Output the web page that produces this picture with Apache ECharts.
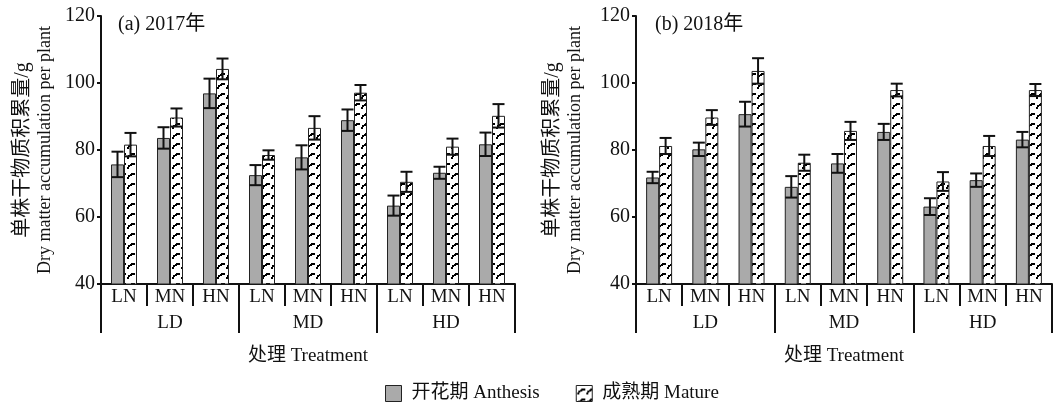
<!DOCTYPE html>
<html>
<head>
<meta charset="utf-8">
<script src="https://cdn.jsdelivr.net/npm/echarts@6/dist/echarts.min.js"></script>
<style>
html, body { margin: 0; padding: 0; background: #fff; }
#chart { width: 1055px; height: 406px; }
</style>
</head>
<body>
<div id="chart"></div>
<script>
var categories = ['LN', 'MN', 'HN', 'LN', 'MN', 'HN', 'LN', 'MN', 'HN'];
var groups = ['LD', 'MD', 'HD'];
var years = ['(a) 2017年', '(b) 2018年'];
var seriesNames = ['开花期 Anthesis', '成熟期 Mature'];

// 2017
var anth2017 = [75.7, 83.6, 96.9, 72.5, 77.8, 88.9, 63.4, 73.2, 81.7];
var anth2017Err = [3.8, 3.2, 4.4, 3.0, 3.6, 3.2, 3.0, 1.8, 3.5];
var mat2017 = [81.6, 89.7, 104.2, 78.5, 86.6, 97.1, 70.5, 81.0, 90.2];
var mat2017Err = [3.5, 2.7, 3.1, 1.4, 3.5, 2.3, 3.0, 2.4, 3.5];
// 2018
var anth2018 = [71.8, 80.2, 90.7, 69.0, 76.0, 85.4, 63.1, 71.0, 83.1];
var anth2018Err = [1.7, 2.0, 3.7, 3.2, 2.8, 2.4, 2.5, 2.0, 2.3];
var mat2018 = [81.2, 89.7, 103.6, 76.2, 85.7, 97.9, 70.6, 81.2, 97.9];
var mat2018Err = [2.4, 2.2, 3.8, 2.4, 2.7, 1.9, 2.8, 3.0, 1.8];

var FONT = "'Liberation Serif', 'Noto Sans CJK SC', serif";
var INK = '#111';

// 成熟期的花纹
function makePattern() {
    var c = document.createElement('canvas');
    c.width = 9;
    c.height = 10;
    var ctx = c.getContext('2d');
    ctx.fillStyle = '#fff';
    ctx.fillRect(0, 0, 9, 10);
    ctx.fillStyle = '#000';
    ctx.fillRect(1, 7, 2, 2);
    ctx.fillRect(2, 5, 2, 2);
    ctx.fillRect(4, 4, 2, 2);
    ctx.fillRect(5, 3, 4, 2);
    return c;
}
var pattern = { image: makePattern(), repeat: 'repeat' };

function errSeries(xi, yi, vals, errs, side) {
    return {
        type: 'custom',
        xAxisIndex: xi,
        yAxisIndex: yi,
        z: 10,
        silent: true,
        data: vals.map(function(v, i) { return [i, v - errs[i], v + errs[i]]; }),
        renderItem: function(params, api) {
            var lo = api.coord([api.value(0), api.value(1)]);
            var hi = api.coord([api.value(0), api.value(2)]);
            var x = lo[0] + side * 6.5;
            var hw = 6;
            var st = { stroke: INK, lineWidth: 2 };
            return {
                type: 'group',
                children: [
                    { type: 'line', shape: { x1: x, y1: lo[1], x2: x, y2: hi[1] }, style: st },
                    { type: 'line', shape: { x1: x - hw, y1: hi[1], x2: x + hw, y2: hi[1] }, style: st },
                    { type: 'line', shape: { x1: x - hw, y1: lo[1], x2: x + hw, y2: lo[1] }, style: st }
                ]
            };
        }
    };
}

function barSeries(xi, yi, name, vals) {
    return {
        type: 'bar',
        name: name,
        xAxisIndex: xi,
        yAxisIndex: yi,
        barWidth: 13,
        barGap: '0%',
        itemStyle: {
            color: name == seriesNames[0] ? '#aaaaaa' : pattern,
            borderColor: '#222',
            borderWidth: 1
        },
        data: vals
    };
}

var lineSt = { color: INK, width: 2 };

function catAxis(g) {
    return {
        type: 'category', gridIndex: g, data: categories, position: 'bottom',
        axisLine: { lineStyle: lineSt },
        axisTick: { show: true, interval: 0, length: 22, lineStyle: lineSt },
        axisLabel: { interval: 0, fontSize: 19, margin: 4, color: INK, fontFamily: FONT }
    };
}

function groupAxis(g) {
    return {
        type: 'category', gridIndex: g, data: groups, position: 'bottom',
        axisLine: { show: false },
        axisTick: { show: true, interval: 0, length: 49, lineStyle: lineSt },
        axisLabel: { interval: 0, fontSize: 19, margin: 30, color: INK, fontFamily: FONT },
        name: '处理 Treatment', nameLocation: 'middle', nameGap: 63,
        nameTextStyle: { fontSize: 19, color: INK, fontFamily: FONT }
    };
}

function valAxis(g, gap) {
    return {
        type: 'value', gridIndex: g, min: 40, max: 120, interval: 20,
        axisLine: { show: true, lineStyle: lineSt },
        axisTick: { show: true, length: 4, lineStyle: lineSt },
        splitLine: { show: false },
        axisLabel: { fontSize: 20, margin: 6, color: INK, fontFamily: FONT },
        name: '{cn|单株干物质积累量/g}\n{en|Dry matter accumulation per plant}',
        nameLocation: 'middle', nameRotate: 90, nameGap: gap,
        nameTextStyle: {
            color: INK, fontFamily: FONT, lineHeight: 22,
            rich: {
                cn: { fontSize: 20, fontFamily: FONT, color: INK, lineHeight: 22 },
                en: { fontSize: 18, fontFamily: FONT, color: INK, lineHeight: 22 }
            }
        }
    };
}

var chart = echarts.init(document.getElementById('chart'), null, { renderer: 'canvas' });
var option = {
    backgroundColor: '#fff',
    animation: false,
    title: [
        { text: years[0], left: 113, top: 10, textStyle: { fontSize: 20, fontWeight: 'normal', color: INK, fontFamily: FONT } },
        { text: years[1], left: 650, top: 10, textStyle: { fontSize: 20, fontWeight: 'normal', color: INK, fontFamily: FONT } }
    ],
    legend: {
        data: seriesNames,
        left: 380, top: 379,
        icon: 'rect',
        itemWidth: 16, itemHeight: 16, itemGap: 36,
        itemStyle: { borderColor: '#222', borderWidth: 1 },
        textStyle: { fontSize: 19, color: INK, fontFamily: FONT, padding: [0, 0, 0, 5] }
    },
    grid: [
        { left: 101, right: 540, top: 16, bottom: 122 },
        { left: 636, right: 3, top: 16, bottom: 122 }
    ],
    xAxis: [catAxis(0), groupAxis(0), catAxis(1), groupAxis(1)],
    yAxis: [valAxis(0, 45), valAxis(1, 50)],
    series: [
        barSeries(0, 0, seriesNames[0], anth2017),
        barSeries(0, 0, seriesNames[1], mat2017),
        barSeries(2, 1, seriesNames[0], anth2018),
        barSeries(2, 1, seriesNames[1], mat2018),
        errSeries(0, 0, anth2017, anth2017Err, -1),
        errSeries(0, 0, mat2017, mat2017Err, 1),
        errSeries(2, 1, anth2018, anth2018Err, -1),
        errSeries(2, 1, mat2018, mat2018Err, 1)
    ]
};
chart.setOption(option);
</script>
</body>
</html>
